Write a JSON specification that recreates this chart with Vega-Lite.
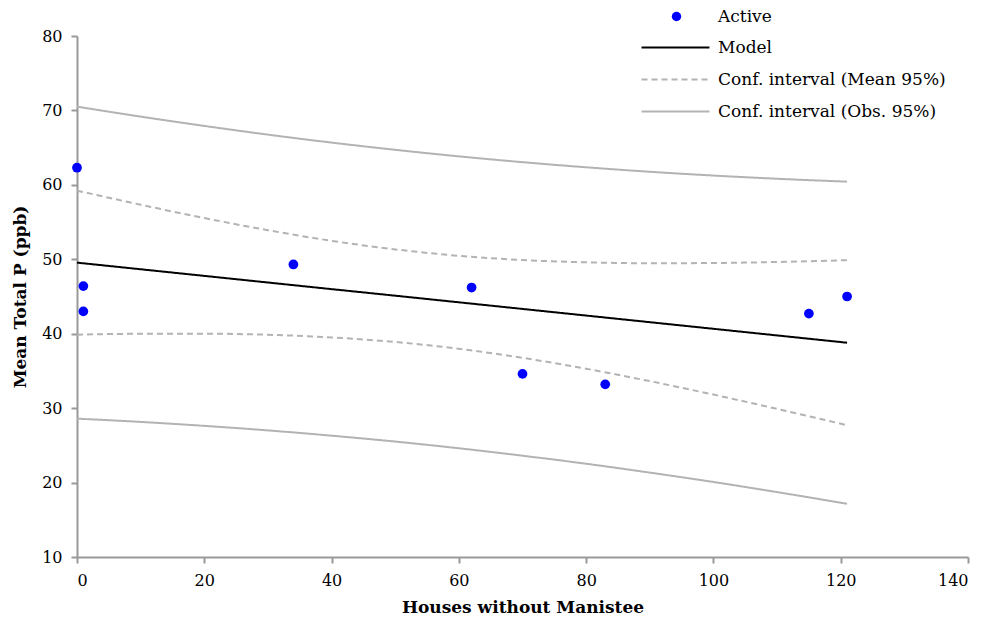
{
  "$schema": "https://vega.github.io/schema/vega-lite/v6.json",
  "width": 891,
  "height": 521,
  "autosize": {"type": "none"},
  "padding": {"left": 77, "top": 36, "right": 18, "bottom": 66},
  "background": "white",
  "config": {
    "view": {"stroke": null},
    "font": "DejaVu Serif",
    "axis": {
      "grid": false,
      "domainColor": "#999999",
      "domainWidth": 2,
      "tickColor": "#999999",
      "tickWidth": 2,
      "tickSize": 6,
      "labelFont": "DejaVu Serif",
      "labelFontSize": 16,
      "labelColor": "#000000",
      "titleFont": "DejaVu Serif",
      "titleFontSize": 17,
      "titleFontWeight": "bold",
      "titleColor": "#000000"
    },
    "legend": {
      "labelFont": "DejaVu Serif",
      "labelFontSize": 17,
      "labelColor": "#000000",
      "labelLimit": 400,
      "padding": 0
    }
  },
  "datasets": {
    "pts": [
      {"houses": 0, "tp": 62.3},
      {"houses": 1, "tp": 46.4},
      {"houses": 1, "tp": 43.0},
      {"houses": 34, "tp": 49.3},
      {"houses": 62, "tp": 46.2},
      {"houses": 70, "tp": 34.6},
      {"houses": 83, "tp": 33.2},
      {"houses": 115, "tp": 42.7},
      {"houses": 121, "tp": 45.0}
    ],
    "fit": [
      {"x": 0, "fit": 49.55, "mu": 59.23, "ml": 39.87, "ou": 70.51, "ol": 28.59},
      {"x": 10, "fit": 48.66, "mu": 57.33, "ml": 39.99, "ou": 69.17, "ol": 28.15},
      {"x": 20, "fit": 47.77, "mu": 55.54, "ml": 40.0, "ou": 67.92, "ol": 27.62},
      {"x": 30, "fit": 46.88, "mu": 53.91, "ml": 39.86, "ou": 66.75, "ol": 27.01},
      {"x": 40, "fit": 45.99, "mu": 52.48, "ml": 39.5, "ou": 65.68, "ol": 26.3},
      {"x": 50, "fit": 45.11, "mu": 51.33, "ml": 38.89, "ou": 64.71, "ol": 25.51},
      {"x": 60, "fit": 44.22, "mu": 50.47, "ml": 37.97, "ou": 63.83, "ol": 24.61},
      {"x": 70, "fit": 43.33, "mu": 49.9, "ml": 36.76, "ou": 63.05, "ol": 23.61},
      {"x": 80, "fit": 42.44, "mu": 49.59, "ml": 35.29, "ou": 62.36, "ol": 22.53},
      {"x": 90, "fit": 41.55, "mu": 49.47, "ml": 33.63, "ou": 61.76, "ol": 21.34},
      {"x": 100, "fit": 40.66, "mu": 49.5, "ml": 31.82, "ou": 61.25, "ol": 20.08},
      {"x": 110, "fit": 39.77, "mu": 49.64, "ml": 29.9, "ou": 60.82, "ol": 18.72},
      {"x": 121, "fit": 38.79, "mu": 49.88, "ml": 27.71, "ou": 60.43, "ol": 17.15}
    ]
  },
  "encoding": {
    "x": {
      "type": "quantitative",
      "scale": {"domain": [0, 140], "nice": false, "zero": false},
      "axis": {"title": "Houses without Manistee", "values": [0, 20, 40, 60, 80, 100, 120, 140], "labelPadding": 9, "titlePadding": 11}
    }
  },
  "layer": [
    {
      "data": {"name": "fit"},
      "mark": {"type": "line", "strokeWidth": 2, "interpolate": "monotone"},
      "encoding": {
        "x": {"field": "x", "type": "quantitative"},
        "y": {
          "field": "ou",
          "type": "quantitative",
          "scale": {"domain": [10, 80], "nice": false, "zero": false},
          "axis": {"title": "Mean Total P (ppb)", "values": [10, 20, 30, 40, 50, 60, 70, 80], "labelPadding": 9, "titlePadding": 12}
        },
        "stroke": {
          "datum": "Conf. interval (Obs. 95%)",
          "scale": {
            "domain": ["Model", "Conf. interval (Mean 95%)", "Conf. interval (Obs. 95%)"],
            "range": ["#000000", "#b3b3b3", "#b3b3b3"]
          },
          "legend": {
            "title": null,
            "orient": "none",
            "legendX": 586,
            "legendY": -1,
            "symbolType": "M-3,0H3",
            "symbolSize": 513,
            "symbolStrokeWidth": 2,
            "labelOffset": 30,
            "rowPadding": 11
          }
        },
        "strokeDash": {
          "datum": "Conf. interval (Obs. 95%)",
          "scale": {
            "domain": ["Model", "Conf. interval (Mean 95%)", "Conf. interval (Obs. 95%)"],
            "range": [[1, 0], [6, 4], [1, 0]]
          }
        }
      }
    },
    {
      "data": {"name": "fit"},
      "mark": {"type": "line", "strokeWidth": 2, "interpolate": "monotone"},
      "encoding": {
        "x": {"field": "x", "type": "quantitative"},
        "y": {"field": "ol", "type": "quantitative"},
        "stroke": {"datum": "Conf. interval (Obs. 95%)"},
        "strokeDash": {"datum": "Conf. interval (Obs. 95%)"}
      }
    },
    {
      "data": {"name": "fit"},
      "mark": {"type": "line", "strokeWidth": 2, "interpolate": "monotone"},
      "encoding": {
        "x": {"field": "x", "type": "quantitative"},
        "y": {"field": "mu", "type": "quantitative"},
        "stroke": {"datum": "Conf. interval (Mean 95%)"},
        "strokeDash": {"datum": "Conf. interval (Mean 95%)"}
      }
    },
    {
      "data": {"name": "fit"},
      "mark": {"type": "line", "strokeWidth": 2, "interpolate": "monotone"},
      "encoding": {
        "x": {"field": "x", "type": "quantitative"},
        "y": {"field": "ml", "type": "quantitative"},
        "stroke": {"datum": "Conf. interval (Mean 95%)"},
        "strokeDash": {"datum": "Conf. interval (Mean 95%)"}
      }
    },
    {
      "data": {"name": "fit"},
      "mark": {"type": "line", "strokeWidth": 2},
      "encoding": {
        "x": {"field": "x", "type": "quantitative"},
        "y": {"field": "fit", "type": "quantitative"},
        "stroke": {"datum": "Model"},
        "strokeDash": {"datum": "Model"}
      }
    },
    {
      "data": {"name": "pts"},
      "mark": {"type": "point", "filled": true, "size": 95, "opacity": 1, "shape": "circle"},
      "encoding": {
        "x": {"field": "houses", "type": "quantitative"},
        "y": {"field": "tp", "type": "quantitative"},
        "fill": {
          "datum": "Active",
          "scale": {"domain": ["Active"], "range": ["#0000ff"]},
          "legend": {
            "title": null,
            "orient": "none",
            "legendX": 591,
            "legendY": -28,
            "symbolType": "circle",
            "symbolSize": 90,
            "labelOffset": 33
          }
        }
      }
    }
  ]
}
